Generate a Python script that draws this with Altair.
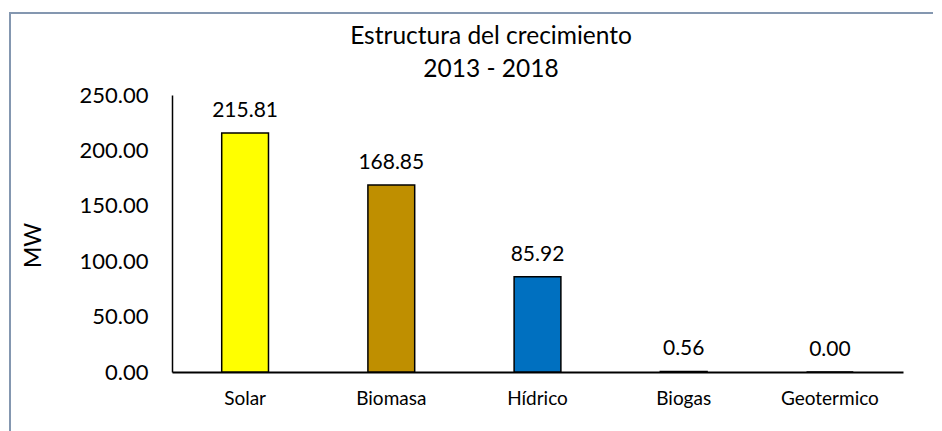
import altair as alt
import pandas as pd

categories = ["Solar", "Biomasa", "Hídrico", "Biogas", "Geotermico"]
values = [215.81, 168.85, 85.92, 0.56, 0.00]
colors = ["#FFFF00", "#BF8F00", "#0070C0", "#843C0C", "#7F7F7F"]
y_ticks = [0, 50, 100, 150, 200, 250]
title_lines = ["Estructura del crecimiento", "2013 - 2018"]

df = pd.DataFrame({"cat": categories, "mw": values, "color": colors})

FONT = "Lato"
W, H = 731, 277

x = alt.X("cat:N", sort=categories, title=None,
          scale=alt.Scale(paddingInner=0.68, paddingOuter=0.34),
          axis=alt.Axis(labelAngle=0, labelFontSize=19, labelColor="#000", ticks=False,
                        labelPadding=17, domainColor="#000", domainWidth=2, labelFont=FONT))
y = alt.Y("mw:Q", title="MW", scale=alt.Scale(domain=[0, 250], nice=False),
          axis=alt.Axis(values=y_ticks, format=".2f", grid=False, ticks=False, labelPadding=24,
                        labelFontSize=22, labelColor="#000", domainColor="#000", domainWidth=1.5,
                        titleFontSize=23, titleFontWeight="normal", titleColor="#000",
                        titleX=-139, titleY=150, titleAlign="center", titleBaseline="middle",
                        labelFont=FONT, titleFont=FONT))

bars = alt.Chart(df).mark_bar(stroke="#000", strokeWidth=1.5).encode(
    x=x, y=y, color=alt.Color("color:N", scale=None)
)
labels = alt.Chart(df).mark_text(baseline="bottom", dy=-12, fontSize=21, font=FONT, color="#000").encode(
    x=alt.X("cat:N", sort=categories), y="mw:Q", text=alt.Text("mw:Q", format=".2f")
)
frame = alt.Chart(df.head(1)).mark_rect(fill=None, stroke="#8497B0", strokeWidth=2).encode(
    x=alt.value(-162), x2=alt.value(900), y=alt.value(-82), y2=alt.value(400)
)
title1 = alt.Chart(df.head(1)).mark_text(fontSize=24.5, font=FONT, color="#000", baseline="middle").encode(
    x=alt.value(319), y=alt.value(-58), text=alt.value(title_lines[0])
)
title2 = alt.Chart(df.head(1)).mark_text(fontSize=24.5, font=FONT, color="#000", baseline="middle").encode(
    x=alt.value(319), y=alt.value(-25), text=alt.value(title_lines[1])
)

chart = alt.layer(frame, bars, labels, title1, title2).properties(
    width=W, height=H,
    background="white",
    autosize=alt.AutoSizeParams(type="none"),
    padding={"left": 164, "top": 87, "right": 30, "bottom": 80},
).configure_view(stroke="transparent", strokeWidth=0)

chart.save("out.html", embed_options={"renderer": "svg", "actions": False})
